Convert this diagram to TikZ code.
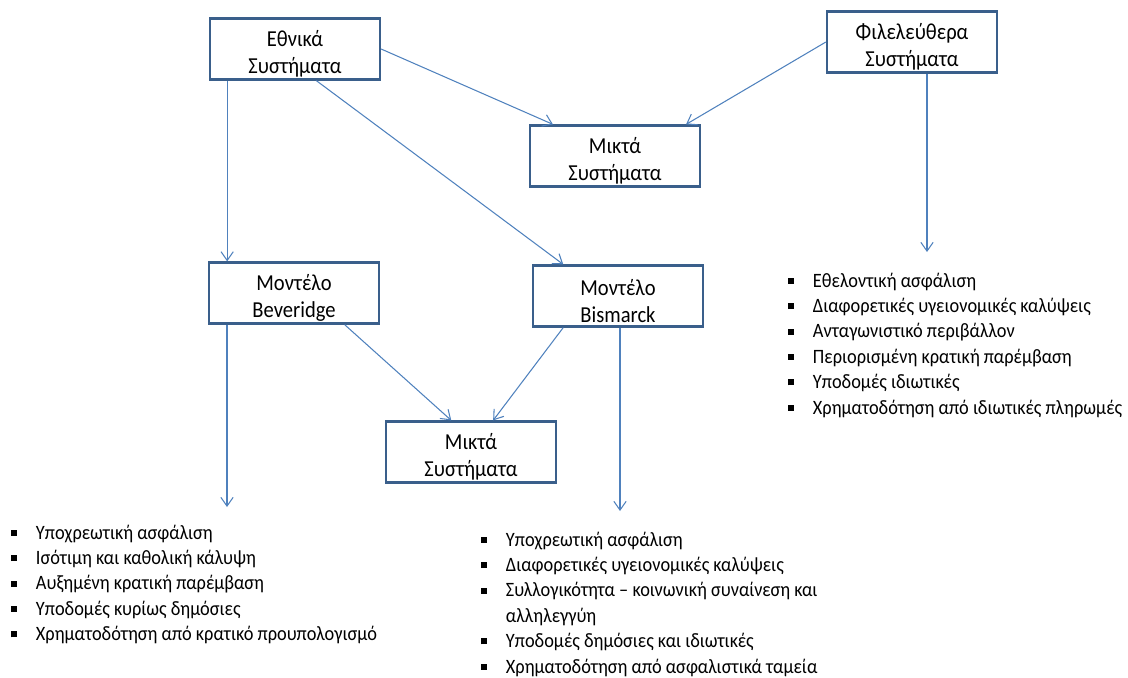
\documentclass[tikz,border=0pt]{standalone}
\usepackage{fontspec}
\setmainfont{Carlito}[FakeStretch=0.9]
\usetikzlibrary{arrows.meta}

\definecolor{boxblue}{HTML}{3A5F8B}
\definecolor{arrowblue}{HTML}{4F81BD}
\newcommand{\sqbullet}{\rule[0.35ex]{3.4pt}{3.4pt}}
\newcommand{\boxlines}[2]{\rule{0pt}{14.5pt}#1\\#2}

\tikzset{
  sysbox/.style={draw=boxblue, line width=1.3pt, fill=white, minimum width=3.4cm,
    minimum height=1.22cm, inner ysep=0pt, align=center, font=\fontsize{13}{15.2}\selectfont},
  flow/.style={draw=arrowblue, line width=0.6pt, -{Straight Barb[length=5pt,width=7pt]}},
  featlist/.style={anchor=north west, inner sep=0pt, font=\fontsize{11.6}{14.45}\selectfont}
}

\begin{document}
\begin{tikzpicture}[x=0.02cm, y=-0.02cm]

      \useasboundingbox (0,0) rectangle (1128,677);

      \begin{scope}[every node/.style={sysbox}]
        \node (ethn) at (295,49)  {\boxlines{Εθνικά}{Συστήματα}};
        \node (libe) at (912,42)  {\boxlines{Φιλελεύθερα}{Συστήματα}};
        \node (mix1) at (615,156) {\boxlines{Μικτά}{Συστήματα}};
        \node (beve) at (294,293) {\boxlines{Μοντέλο}{Beveridge}};
        \node (bism) at (618,296) {\boxlines{Μοντέλο}{Bismarck}};
        \node (mix2) at (471,452) {\boxlines{Μικτά}{Συστήματα}};
      \end{scope}

      \coordinate (libeend) at (927,252);
      \coordinate (beveend) at (227,507);
      \coordinate (bismend) at (620,511);

      \begin{scope}[every node/.style={featlist}]
        \node (libelist) at (788,269) {\begin{tabular}{@{}p{14pt}@{}l@{}}
          \sqbullet & Εθελοντική ασφάλιση\\
          \sqbullet & Διαφορετικές υγειονομικές καλύψεις\\
          \sqbullet & Ανταγωνιστικό περιβάλλον\\
          \sqbullet & Περιορισμένη κρατική παρέμβαση\\
          \sqbullet & Υποδομές ιδιωτικές\\
          \sqbullet & Χρηματοδότηση από ιδιωτικές πληρωμές
        \end{tabular}};
        \node (bevelist) at (11,521) {\begin{tabular}{@{}p{14pt}@{}l@{}}
          \sqbullet & Υποχρεωτική ασφάλιση\\
          \sqbullet & Ισότιμη και καθολική κάλυψη\\
          \sqbullet & Αυξημένη κρατική παρέμβαση\\
          \sqbullet & Υποδομές κυρίως δημόσιες\\
          \sqbullet & Χρηματοδότηση από κρατικό προυπολογισμό
        \end{tabular}};
        \node (bismlist) at (481,528) {\begin{tabular}{@{}p{14pt}@{}l@{}}
          \sqbullet & Υποχρεωτική ασφάλιση\\
          \sqbullet & Διαφορετικές υγειονομικές καλύψεις\\
          \sqbullet & Συλλογικότητα – κοινωνική συναίνεση και\\
                    & αλληλεγγύη\\
          \sqbullet & Υποδομές δημόσιες και ιδιωτικές\\
          \sqbullet & Χρηματοδότηση από ασφαλιστικά ταμεία
        \end{tabular}};
      \end{scope}

      \draw[flow] (ethn.east) -- (mix1.153);
      \draw[flow] (libe.west) -- (mix1.24);
      \draw[flow] (ethn.205) -- (ethn.205 |- beve.north);
      \draw[flow] (ethn.304) -- (bism.150);
      \draw[flow] (libeend |- libe.south) -- (libeend);
      \draw[flow] (beveend |- beve.south) -- (beveend);
      \draw[flow] (beve.328) -- (mix2.122);
      \draw[flow] (bism.210) -- (mix2.55);
      \draw[flow] (bismend |- bism.south) -- (bismend);

    \end{tikzpicture}
\end{document}
